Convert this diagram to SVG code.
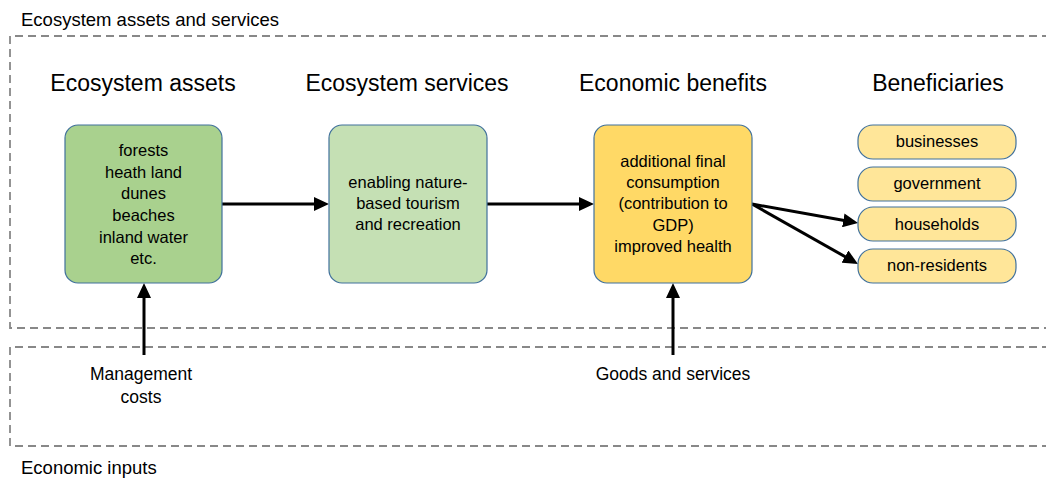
<svg xmlns="http://www.w3.org/2000/svg" width="1046" height="479" viewBox="0 0 1046 479">
<defs>
<marker id="ah" markerUnits="userSpaceOnUse" markerWidth="16" markerHeight="14" refX="11" refY="7" orient="auto">
<path d="M0,0 L15,7 L0,14 z" fill="#000"/>
</marker>
</defs>
<style>
text{font-family:"Liberation Sans",Arial,sans-serif;fill:#000}
.sec{font-size:18.5px}
.head{font-size:23px;text-anchor:middle}
.t{font-size:16.5px;text-anchor:middle}
.lab{font-size:17.5px;text-anchor:middle}
.dash{fill:none;stroke:#888;stroke-width:1.8;stroke-dasharray:8 5}
.box{stroke:#41719C;stroke-width:1.2}
.conn{stroke:#000;stroke-width:3;fill:none;marker-end:url(#ah)}
</style>
<rect width="1046" height="479" fill="#fff"/>
<g id="frames">
<path class="dash" d="M1050,36 H10 V328 H1050"/>
<path class="dash" d="M1050,347 H10 V446 H1050"/>
<text class="sec" x="21" y="26">Ecosystem assets and services</text>
<text class="sec" x="21" y="474">Economic inputs</text>
</g>
<g id="headings">
<text class="head" x="143" y="91">Ecosystem assets</text>
<text class="head" x="407" y="91">Ecosystem services</text>
<text class="head" x="673" y="91">Economic benefits</text>
<text class="head" x="938" y="91">Beneficiaries</text>
</g>
<g id="connectors">
<line class="conn" x1="222" y1="204" x2="325" y2="204"/>
<line class="conn" x1="487" y1="204" x2="590" y2="204"/>
<line class="conn" x1="752" y1="204" x2="854.1" y2="222.3"/>
<line class="conn" x1="752" y1="204" x2="854.5" y2="262"/>
<line class="conn" x1="144" y1="355" x2="144" y2="287"/>
<line class="conn" x1="673" y1="355" x2="673" y2="287"/>
</g>
<g id="assets">
<rect class="box" x="65" y="125" width="157" height="158" rx="13" fill="#A9D18E"/>
<text class="t" x="143.5" y="156">forests</text>
<text class="t" x="143.5" y="177.5">heath land</text>
<text class="t" x="143.5" y="199">dunes</text>
<text class="t" x="143.5" y="221">beaches</text>
<text class="t" x="143.5" y="242.5">inland water</text>
<text class="t" x="143.5" y="264">etc.</text>
</g>
<g id="services">
<rect class="box" x="329" y="125" width="158" height="158" rx="13" fill="#C5E0B4"/>
<text class="t" x="408" y="188">enabling nature-</text>
<text class="t" x="408" y="209">based tourism</text>
<text class="t" x="408" y="230">and recreation</text>
</g>
<g id="benefits">
<rect class="box" x="594" y="125" width="158" height="158" rx="13" fill="#FFD966"/>
<text class="t" x="673" y="167">additional final</text>
<text class="t" x="673" y="188">consumption</text>
<text class="t" x="673" y="209">(contribution to</text>
<text class="t" x="673" y="231">GDP)</text>
<text class="t" x="673" y="252">improved health</text>
</g>
<g id="businesses">
<rect class="box" x="858" y="125" width="158" height="34" rx="15" fill="#FFE699"/>
<text class="t" x="937" y="147">businesses</text>
</g>
<g id="government">
<rect class="box" x="858" y="167" width="158" height="34" rx="15" fill="#FFE699"/>
<text class="t" x="937" y="188.5">government</text>
</g>
<g id="households">
<rect class="box" x="858" y="207" width="158" height="34" rx="15" fill="#FFE699"/>
<text class="t" x="937" y="230">households</text>
</g>
<g id="non-residents">
<rect class="box" x="858" y="249" width="158" height="34" rx="15" fill="#FFE699"/>
<text class="t" x="937" y="271">non-residents</text>
</g>
<g id="inputs">
<text class="lab" x="141" y="380">Management</text>
<text class="lab" x="141" y="403">costs</text>
<text class="lab" x="673" y="380">Goods and services</text>
</g>
</svg>
